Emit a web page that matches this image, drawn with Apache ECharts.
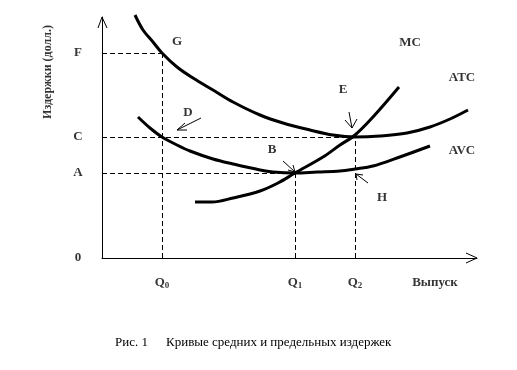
<!DOCTYPE html>
<html><head><meta charset="utf-8">
<script src="https://cdn.jsdelivr.net/npm/echarts/dist/echarts.min.js"></script>
<style>html,body{margin:0;padding:0;background:#fff}#c{width:517px;height:370px}</style>
</head><body><div id="c"></div>
<script>
// Curves (arbitrary units: output, cost)
const atcX = [33,41,51,60,75,91,111,131,158,181,208,231,253,278,305,328,348,366];
const atcY = [243,228,216,205,191,180,168,156,143,135,128,123,121,122,125,131,139,148];
const avcX = [36,48,60,75,88,111,131,158,171,193,215,238,253,271,295,328];
const avcY = [141,130,121,113,107,99,94,88,86,85,86,87,89,92,100,112];
const mcX = [93,110,131,158,176,193,221,238,253,271,297];
const mcY = [56,56,60,67,75,85,101,113,123,141,171];

// Tick marks
const yTickNames = ['F','C','A','0'];
const yTickValues = [205,121,85,0];
const xTickNames = ['0','1','2'];   // subscripts of Q
const xTickValues = [60,193,253];
const xAxisMax = 375, yAxisMax = 241;

// Point letters and curve names
const pointNames = ['G','D','E','B','H','MC','ATC','AVC'];
const pointX = [75,86,241,170,280,308,360,360];
const pointY = [216,145,168,108,60,215,180,107];

const F = yTickValues[0], C = yTickValues[1], A = yTickValues[2];
const Q0 = xTickValues[0], Q1 = xTickValues[1], Q2 = xTickValues[2];

const zip = (xs, ys) => xs.map((x, i) => [x, ys[i]]);

const guides = [
  [[0,F],[Q0,F]], [[0,C],[Q2,C]], [[0,A],[Q1,A]],
  [[Q0,0],[Q0,F]], [[Q1,0],[Q1,A]], [[Q2,0],[Q2,C]]
];
// pointer arrows: tail -> tip -> wing, and tip -> other wing
const arrows = [
  [[99,140],[75,128],[85,128]], [[75,128],[83,135]],
  [[247,146],[250,130],[243,138]], [[250,130],[255,139]],
  [[181,97],[193,86],[186,88]], [[193,86],[191,93]],
  [[266,75],[254,84],[255,78]], [[254,84],[261,83]],
  // axis arrowheads
  [[-4,230],[0,yAxisMax],[5,230]],
  [[364,5],[xAxisMax,0],[364,-5]]
];

const serif = '"Liberation Serif", "Times New Roman", serif';
const curveStyle = {color:'#000', width:3};
const curve = (name, xs, ys) => ({
  type:'line', name, data: zip(xs, ys), showSymbol:false, smooth:0.35,
  lineStyle: curveStyle, clip:false, z:5, silent:true
});
const textPoint = (data, extra) => ({
  type:'scatter', symbolSize:0, data, silent:true, clip:false,
  label: Object.assign({show:true, position:'inside', color:'#000',
    fontFamily:serif, fontWeight:'bold', fontSize:13, align:'center', verticalAlign:'middle'}, extra)
});

const chart = echarts.init(document.getElementById('c'));
chart.setOption({
  animation:false,
  backgroundColor:'#fff',
  grid:{left:102, right:517-102-xAxisMax, top:17, bottom:370-17-yAxisMax},
  xAxis:{type:'value', min:0, max:xAxisMax, axisLine:{show:true, onZero:false, lineStyle:{color:'#000', width:1}},
    axisTick:{show:false}, axisLabel:{show:false}, splitLine:{show:false}},
  yAxis:{type:'value', min:0, max:yAxisMax, axisLine:{show:true, onZero:false, lineStyle:{color:'#000', width:1}},
    axisTick:{show:false}, axisLabel:{show:false}, splitLine:{show:false}},
  series:[
    {type:'lines', coordinateSystem:'cartesian2d', data: guides.map(c => ({coords:c})), clip:false,
      lineStyle:{color:'#000', width:1, type:[5,3], opacity:1}, silent:true, z:2},
    curve('ATC', atcX, atcY),
    curve('AVC', avcX, avcY),
    curve('MC', mcX, mcY),
    {type:'lines', coordinateSystem:'cartesian2d', polyline:true, clip:false, data: arrows.map(c => ({coords:c})),
      lineStyle:{color:'#000', width:1, opacity:1}, silent:true, z:6},
    textPoint(pointNames.map((n,i) => ({value:[pointX[i], pointY[i]], name:n})), {formatter: p => p.name}),
    textPoint(yTickNames.map((n,i) => ({value:[-24, yTickValues[i]], name:n})), {formatter: p => p.name}),
    textPoint(xTickNames.map((n,i) => ({value:[xTickValues[i], -25], name:n})), {
      formatter: p => '{q|Q}{s|' + p.name + '}',
      rich:{q:{fontFamily:serif, fontWeight:'bold', fontSize:13, color:'#000', verticalAlign:'bottom'},
            s:{fontFamily:serif, fontWeight:'bold', fontSize:9, color:'#000', verticalAlign:'bottom', padding:[0,0,-1,0]}}
    }),
    textPoint([{value:[333,-25], name:'Выпуск'}], {formatter: p => p.name}),
    textPoint([{value:[-54,186], name:'Издержки (долл.)'}], {formatter: p => p.name, rotate:90, fontSize:12, fontWeight:'bold'})
  ],
  graphic:[
    {type:'text', left:115, top:336, style:{text:'Рис. 1', font:'13px '+serif, fill:'#000'}},
    {type:'text', left:166, top:336, style:{text:'Кривые средних и предельных издержек', font:'13px '+serif, fill:'#000'}}
  ]
});
</script></body></html>
